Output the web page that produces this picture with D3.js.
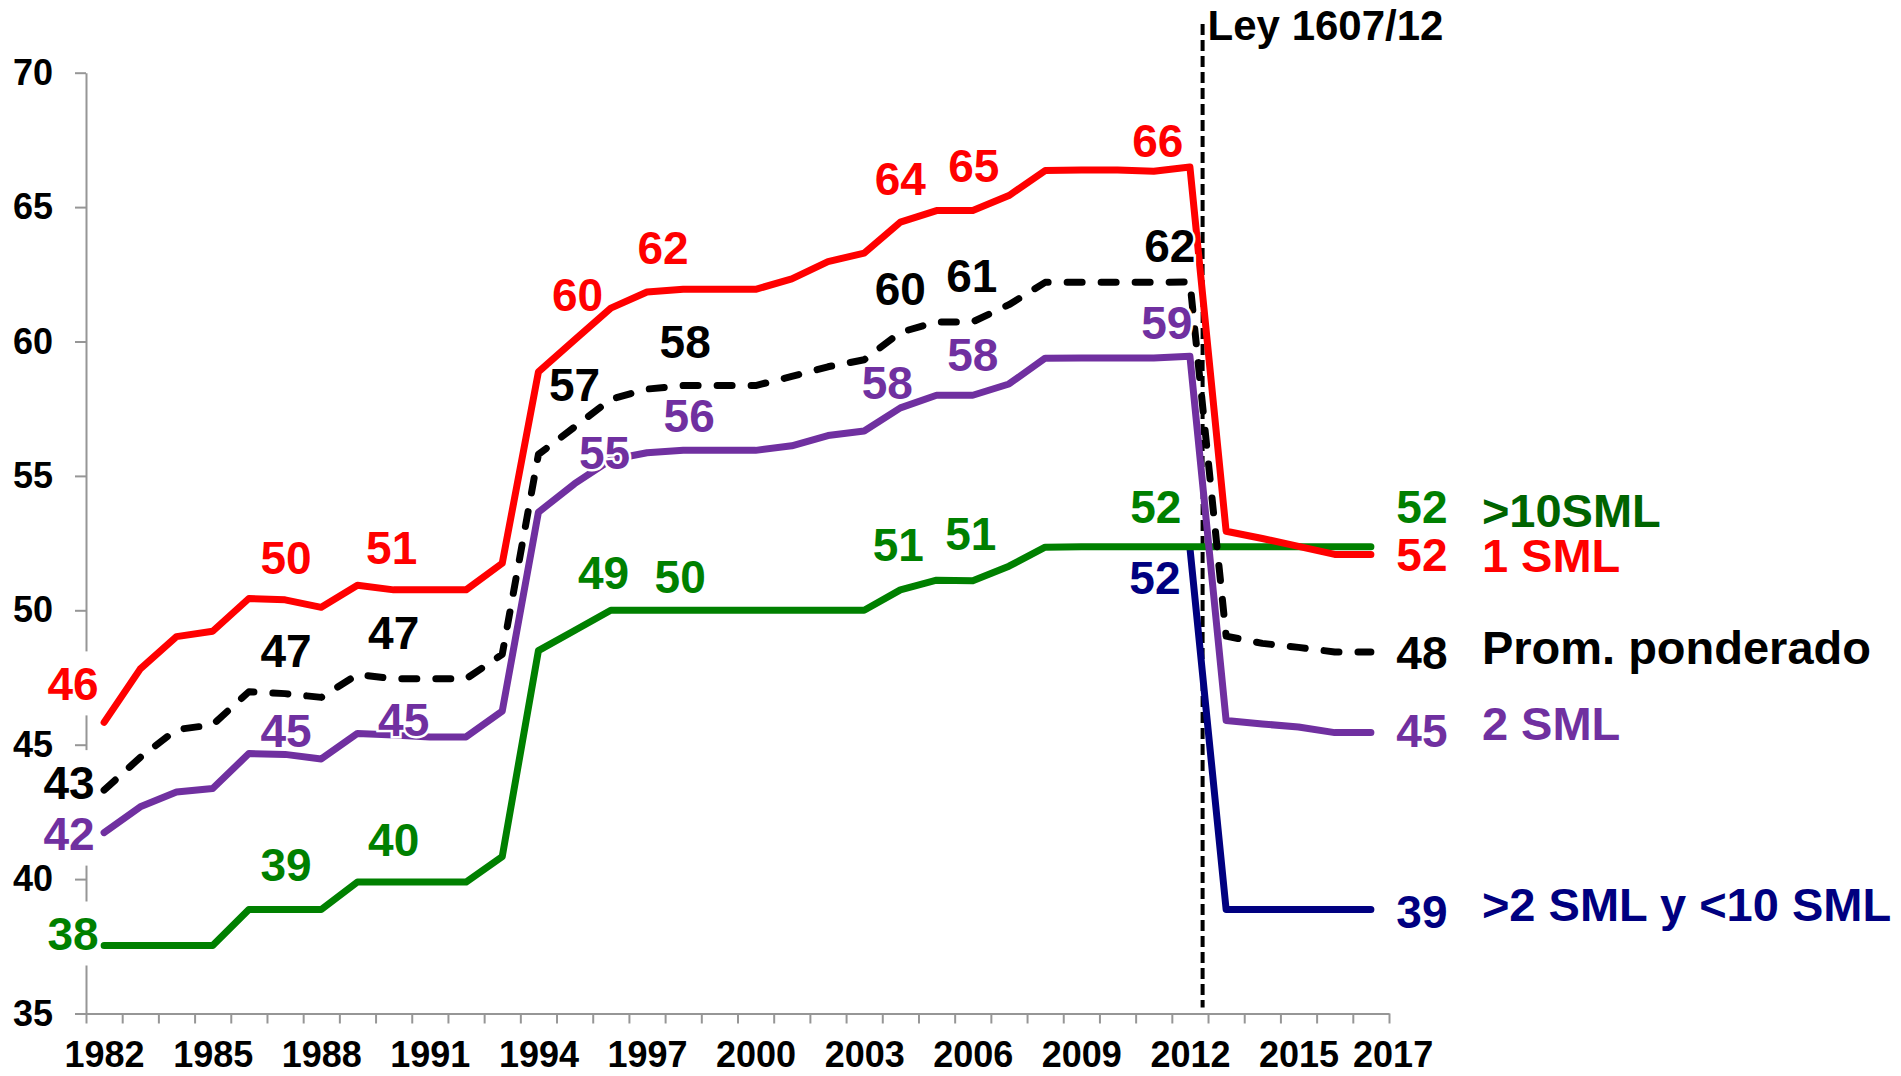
<!DOCTYPE html>
<html>
<head>
<meta charset="utf-8">
<script src="https://cdn.jsdelivr.net/npm/d3@7"></script>
<style>
body { margin: 0; background: #fff; }
svg text { font-family: "Liberation Sans", Arial, sans-serif; font-weight: bold; }
</style>
</head>
<body>
<svg id="chart" width="1901" height="1076"></svg>
<script>
// categories and tick labels
var years = d3.range(1982, 2018);
var xLabels = [1982, 1985, 1988, 1991, 1994, 1997, 2000, 2003, 2006, 2009, 2012, 2015, 2017];
var yTicks = [35, 40, 45, 50, 55, 60, 65, 70];

// series values, 1982..2017
var sml1 = [45.83, 47.82, 49.02, 49.22, 50.44, 50.39, 50.11, 50.93, 50.76, 50.76, 50.76, 51.75,
  58.87, 60.06, 61.24, 61.84, 61.94, 61.94, 61.94, 62.33, 62.97, 63.29, 64.44, 64.87, 64.87,
  65.43, 66.36, 66.38, 66.38, 66.33, 66.49, 52.94, 52.67, 52.38, 52.08, 52.08];
var promedio = [43.31, 44.53, 45.56, 45.74, 46.97, 46.90, 46.76, 47.61, 47.45, 47.45, 47.45, 48.36,
  55.80, 56.82, 57.85, 58.23, 58.36, 58.36, 58.36, 58.70, 59.06, 59.32, 60.34, 60.73, 60.73,
  61.37, 62.20, 62.20, 62.20, 62.20, 62.22, 49.04, 48.77, 48.62, 48.45, 48.45];
var sml2 = [41.73, 42.69, 43.24, 43.37, 44.67, 44.64, 44.47, 45.42, 45.36, 45.29, 45.29, 46.25,
  53.65, 54.71, 55.60, 55.86, 55.95, 55.95, 55.95, 56.12, 56.50, 56.67, 57.53, 58.00, 58.00,
  58.42, 59.38, 59.39, 59.39, 59.39, 59.45, 45.90, 45.77, 45.66, 45.45, 45.45];
var sml10 = [37.53, 37.53, 37.53, 37.53, 38.87, 38.87, 38.87, 39.89, 39.89, 39.89, 39.89, 40.84,
  48.50, 49.25, 50.00, 50.00, 50.00, 50.00, 50.00, 50.00, 50.00, 50.00, 50.76, 51.12, 51.10,
  51.64, 52.35, 52.36, 52.36, 52.36, 52.36, 52.36, 52.36, 52.36, 52.36, 52.36];
var sml2a10 = [null, null, null, null, null, null, null, null, null, null, null, null,
  null, null, null, null, null, null, null, null, null, null, null, null, null,
  null, null, null, null, null, 52.32, 38.87, 38.87, 38.87, 38.87, 38.87];

var leyYear = 2012.35;
var leyText = "Ley 1607/12";

var series = [
  { key: "sml2a10", values: sml2a10, color: "#000080", nameColor: "#000080", name: ">2 SML y <10 SML" },
  { key: "sml10", values: sml10, color: "#008000", nameColor: "#006400", name: ">10SML" },
  { key: "sml2", values: sml2, color: "#7030A0", nameColor: "#7030A0", name: "2 SML" },
  { key: "sml1", values: sml1, color: "#FF0000", nameColor: "#FF0000", name: "1 SML" },
  { key: "promedio", values: promedio, color: "#000000", nameColor: "#000000", name: "Prom. ponderado", dash: true }
];

// label placement: series, year, offset of label centre from the point
var labelSpots = [
  ["sml1", 1982, -31, -39], ["sml1", 1987, 1, -42], ["sml1", 1990, -2, -42], ["sml1", 1995, 3, -45],
  ["sml1", 1997, 16, -45], ["sml1", 2004, 0, -44], ["sml1", 2006, 1, -45], ["sml1", 2011, 4, -31],
  ["sml1", 2017, 51, 0],
  ["promedio", 1982, -35, -8], ["promedio", 1987, 1, -43], ["promedio", 1990, 0, -46], ["promedio", 1995, 0, -43],
  ["promedio", 1998, 2, -44], ["promedio", 2004, 0, -44], ["promedio", 2006, -1, -46], ["promedio", 2011, 16, -37],
  ["promedio", 2017, 51, 0],
  ["sml2", 1982, -35, 1], ["sml2", 1987, 1, -24], ["sml2", 1990, 10, -16], ["sml2", 1995, 30, -31],
  ["sml2", 1998, 6, -35], ["sml2", 2004, -13, -25], ["sml2", 2006, 0, -41], ["sml2", 2011, 13, -35],
  ["sml2", 2017, 51, -2],
  ["sml10", 1982, -31, -12], ["sml10", 1987, 1, -45], ["sml10", 1990, 0, -43], ["sml10", 1995, 29, -58],
  ["sml10", 1998, -3, -34], ["sml10", 2004, -2, -45], ["sml10", 2006, -2, -47], ["sml10", 2011, 2, -40],
  ["sml10", 2017, 51, -40],
  ["sml2a10", 2012, -35, 30], ["sml2a10", 2017, 51, 2]
];
var nameSpots = { sml10: 510, sml1: 555, promedio: 647, sml2: 723, sml2a10: 904 };

var svg = d3.select("#chart");

var x = d3.scaleLinear().domain([1981.5, 2017.5]).range([86, 1389]);
var y = d3.scaleLinear().domain([35, 70]).range([1013.5, 72.7]);

// y axis line and ticks (labels are drawn last, above the label boxes)
svg.append("g").attr("class", "axis").attr("transform", "translate(" + x(1981.5) + ",0)")
  .call(d3.axisLeft(y).tickValues(yTicks).tickFormat("").tickSize(11).tickSizeOuter(0));

// x axis: ticks between categories, labels at category centres
svg.append("g").attr("class", "axis").attr("transform", "translate(0," + y(35) + ")")
  .call(d3.axisBottom(x).tickValues(d3.range(1981.5, 2018, 1)).tickFormat("").tickSize(10).tickSizeOuter(0));
var xText = svg.append("g").attr("transform", "translate(0," + y(35) + ")")
  .call(d3.axisBottom(x)
    .tickValues(xLabels.map(function (d) { return d === 2017 ? d + 0.6 : d; }))
    .tickFormat(function (d) { return Math.floor(d); })
    .tickSize(0).tickPadding(28));
xText.select(".domain").remove();
xText.selectAll("text").attr("font-size", 36).attr("fill", "#000");

svg.selectAll(".axis .domain, .axis .tick line").attr("stroke", "#969696").attr("stroke-width", 2);

// law marker
svg.append("line")
  .attr("x1", x(leyYear)).attr("x2", x(leyYear))
  .attr("y1", 24).attr("y2", y(35) - 6)
  .attr("stroke", "#000").attr("stroke-width", 4).attr("stroke-dasharray", "11,5");
svg.append("text").attr("x", x(leyYear) + 5).attr("y", 40)
  .attr("font-size", 42).text(leyText);

// lines
var line = d3.line()
  .defined(function (d) { return d != null; })
  .x(function (d, i) { return x(years[i]); })
  .y(function (d) { return y(d); });

svg.selectAll("path.serie").data(series).enter().append("path")
  .attr("class", "serie")
  .attr("d", function (d) { return line(d.values); })
  .attr("fill", "none")
  .attr("stroke", function (d) { return d.color; })
  .attr("stroke-width", 7)
  .attr("stroke-linejoin", "round")
  .attr("stroke-linecap", "round")
  .attr("stroke-dasharray", function (d) { return d.dash ? "15,19" : null; });

// data labels
var byKey = {};
series.forEach(function (s) { byKey[s.key] = s; });

var lab = svg.append("g");
labelSpots.forEach(function (p) {
  var s = byKey[p[0]];
  var v = s.values[years.indexOf(p[1])];
  var cx = x(p[1]) + p[2], cy = y(v) + p[3];
  if (p[1] === 1982) {
    lab.append("rect").attr("x", cx - 27).attr("y", cy - 32).attr("width", 54).attr("height", 64).attr("fill", "#fff");
  }
  lab.append("text")
    .attr("x", cx).attr("y", cy).attr("dy", "0.36em")
    .attr("text-anchor", "middle")
    .attr("font-size", 46)
    .attr("fill", s.color)
    .attr("stroke", "#fff").attr("stroke-width", 5).attr("paint-order", "stroke")
    .text(d3.format(".0f")(v));
});

// y tick labels on top
var yText = svg.append("g").attr("transform", "translate(" + x(1981.5) + ",0)")
  .call(d3.axisLeft(y).tickValues(yTicks).tickSize(0).tickPadding(33));
yText.select(".domain").remove();
yText.selectAll("text").attr("font-size", 36).attr("fill", "#000");

// series names at the right
series.forEach(function (s) {
  svg.append("text")
    .attr("x", x(2017) + 111).attr("y", nameSpots[s.key]).attr("dy", "0.36em")
    .attr("font-size", 47)
    .attr("fill", s.nameColor)
    .text(s.name);
});
</script>
</body>
</html>
